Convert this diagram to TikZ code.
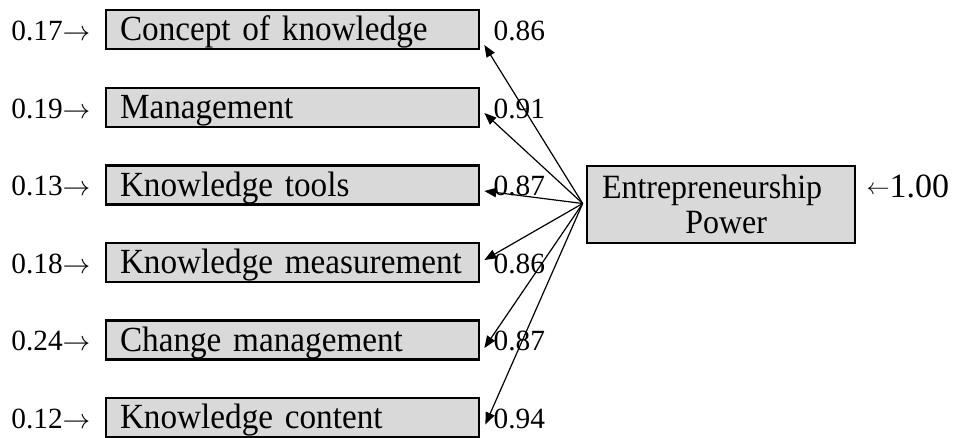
\documentclass[tikz,border=0pt]{standalone}
\usepackage{fontspec}
\setmainfont{Liberation Serif}
\newfontfamily\boxfont{Liberation Serif}[FakeStretch=0.94]
\usetikzlibrary{arrows.meta,calc}
\definecolor{boxgray}{RGB}{217,217,217}
\begin{document}
\begin{tikzpicture}[x=0.75pt,y=-0.75pt,
  kbox/.style={draw=black,line width=2pt,fill=boxgray,minimum width=279.75pt,minimum height=29.25pt,
    inner xsep=10.5pt,inner ysep=0pt,text width=258.75pt,align=left,
    font=\boxfont\fontsize{26.5pt}{30pt}\selectfont,text height=21pt,text depth=4pt},
  ebox/.style={draw=black,line width=2pt,fill=boxgray,minimum width=201pt,minimum height=57.75pt,
    inner xsep=11.25pt,inner ysep=0pt,text width=178.5pt,align=left,
    font=\boxfont\fontsize{25.5pt}{26.5pt}\selectfont},
  lbl/.style={inner sep=0pt,font=\fontsize{22pt}{26pt}\selectfont},
  rlbl/.style={inner sep=0pt,font=\fontsize{25.5pt}{30pt}\selectfont},
  conn/.style={line width=0.9pt,-{Triangle[length=9pt,width=7pt]}}]
\useasboundingbox (0,0) rectangle (955,437);
% indicator boxes
\node[kbox] (c1) at (292.5,29.5) {Concept of knowledge};
\node[kbox] (c2) at (292.5,107.5) {Management};
\node[kbox] (c3) at (292.5,185) {Knowledge tools};
\node[kbox] (c4) at (292.5,262.5) {Knowledge measurement};
\node[kbox] (c5) at (292.5,340) {Change management};
\node[kbox] (c6) at (292.5,417.5) {Knowledge content};
% latent box
\node[ebox] (ep) at (721,204.5) {Entrepreneurship\\\hspace*{2.45em}Power};
% error labels
\node[lbl,anchor=base east] (e1) at ($(c1.west)+(-14,10.5)$) {0.17$\rightarrow$};
\node[lbl,anchor=base east] (e2) at ($(c2.west)+(-14,10.5)$) {0.19$\rightarrow$};
\node[lbl,anchor=base east] (e3) at ($(c3.west)+(-14,10.5)$) {0.13$\rightarrow$};
\node[lbl,anchor=base east] (e4) at ($(c4.west)+(-14,10.5)$) {0.18$\rightarrow$};
\node[lbl,anchor=base east] (e5) at ($(c5.west)+(-14,10.5)$) {0.24$\rightarrow$};
\node[lbl,anchor=base east] (e6) at ($(c6.west)+(-14,10.5)$) {0.12$\rightarrow$};
\node[rlbl,anchor=base west] (r) at ($(ep.east)+(10,-7.5)$) {\raisebox{1.6pt}{\fontsize{17pt}{19pt}\selectfont$\leftarrow$}1.00};
% connectors
\coordinate (hub) at ($(ep.west)+(-3,-1)$);
\draw[conn] (hub) -- ($(c1.east)+(4,15.5)$);
\draw[conn] (hub) -- ($(c2.east)+(4,5.5)$);
\draw[conn] (hub) -- ($(c3.east)+(4,6)$);
\draw[conn] (hub) -- ($(c4.east)+(4,-2.5)$);
\draw[conn] (hub) -- ($(c5.east)+(4,8)$);
\draw[conn] (hub) -- ($(c6.east)+(5,7)$);
% loading labels
\node[lbl,anchor=base west] (l1) at ($(c1.east)+(13,10.5)$) {0.86};
\node[lbl,anchor=base west] (l2) at ($(c2.east)+(13,10.5)$) {0.91};
\node[lbl,anchor=base west] (l3) at ($(c3.east)+(13,10.5)$) {0.87};
\node[lbl,anchor=base west] (l4) at ($(c4.east)+(13,10.5)$) {0.86};
\node[lbl,anchor=base west] (l5) at ($(c5.east)+(13,10.5)$) {0.87};
\node[lbl,anchor=base west] (l6) at ($(c6.east)+(13,10.5)$) {0.94};
\end{tikzpicture}
\end{document}
